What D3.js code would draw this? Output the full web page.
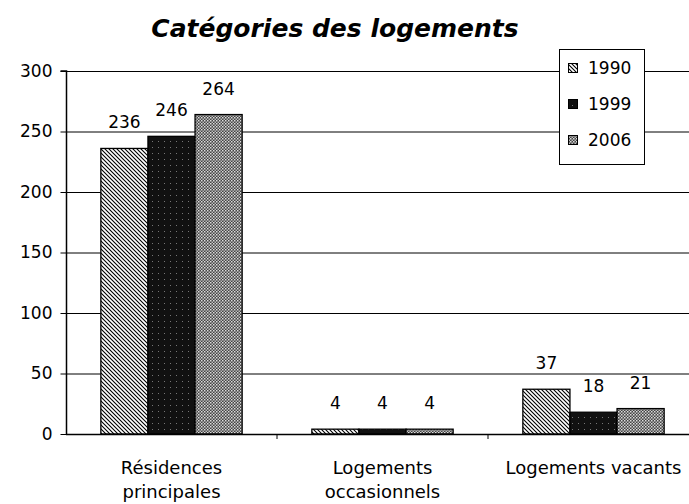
<!DOCTYPE html>
<html><head><meta charset="utf-8">
<script src="https://cdn.jsdelivr.net/npm/d3@7"></script>
<style>body{margin:0;background:#fff}svg{display:block}text{font-family:"DejaVu Sans",sans-serif}</style>
</head><body>
<script>
const title = "Catégories des logements";
const categories = [["Résidences","principales"],["Logements","occasionnels"],["Logements vacants"]];
const seriesNames = ["1990","1999","2006"];
const v1990 = [236, 4, 37];
const v1999 = [246, 4, 18];
const v2006 = [264, 4, 21];
const yTicks = [0,50,100,150,200,250,300];

const W=689,H=504;
const FONT="DejaVu Sans, sans-serif";
const svg=d3.select("body").append("svg").attr("width",W).attr("height",H);
const defs=svg.append("defs");
// patterns
const p1=defs.append("pattern").attr("id","pat0").attr("patternUnits","userSpaceOnUse").attr("width",4).attr("height",4);
p1.append("rect").attr("width",4).attr("height",4).attr("fill","#fff");
p1.append("path").attr("d","M-1,-1L5,5M-1,3L1,5M3,-1L5,1").attr("stroke","#000").attr("stroke-width",1.1);
const p2=defs.append("pattern").attr("id","pat1").attr("patternUnits","userSpaceOnUse").attr("width",6).attr("height",6);
p2.append("rect").attr("width",6).attr("height",6).attr("fill","#111");
p2.append("rect").attr("x",2).attr("y",3).attr("width",1).attr("height",1).attr("fill","#777");
const p3=defs.append("pattern").attr("id","pat2").attr("patternUnits","userSpaceOnUse").attr("width",3).attr("height",3);
p3.append("rect").attr("width",3).attr("height",3).attr("fill","#444");
p3.append("rect").attr("x",0).attr("y",0).attr("width",1.5).attr("height",1.5).attr("fill","#ddd");
p3.append("rect").attr("x",1.5).attr("y",1.5).attr("width",1.5).attr("height",1.5).attr("fill","#bbb");

const m={left:66,top:71,right:699,bottom:434};
const x=d3.scaleBand().domain(d3.range(categories.length)).range([m.left,m.right]).paddingInner(0).paddingOuter(0);
const y=d3.scaleLinear().domain([0,300]).range([m.bottom,m.top]);
const xs=d3.scaleBand().domain(seriesNames).range([0,x.bandwidth()]).paddingOuter(0.74).paddingInner(0);

// gridlines
svg.append("g").selectAll("line").data(yTicks.filter(d=>d>0)).join("line")
 .attr("x1",m.left).attr("x2",W).attr("y1",d=>y(d)+0.5).attr("y2",d=>y(d)+0.5)
 .attr("stroke","#000").attr("stroke-width",1);

// bars
const series=[v1990,v1999,v2006];
series.forEach((vals,si)=>{
  svg.append("g").selectAll("rect").data(vals).join("rect")
   .attr("x",(d,i)=>x(i)+xs(seriesNames[si]))
   .attr("y",d=>y(d))
   .attr("width",xs.bandwidth())
   .attr("height",d=>y(0)-y(d))
   .attr("fill",`url(#pat${si})`).attr("stroke","#000").attr("stroke-width",1.3);
  svg.append("g").selectAll("text").data(vals).join("text")
   .attr("x",(d,i)=>x(i)+xs(seriesNames[si])+xs.bandwidth()/2)
   .attr("y",d=>y(d)-20)
   .attr("text-anchor","middle").attr("font-size",17).text(d=>d);
});

// y axis
const yAxis=d3.axisLeft(y).tickValues(yTicks).tickSize(6).tickPadding(8);
const ga=svg.append("g").attr("transform",`translate(${m.left+0.5},0)`).call(yAxis);
ga.select(".domain").attr("stroke","#000").attr("stroke-width",1.5).attr("d",`M-6,${m.top}H0V${m.bottom}`);
ga.selectAll(".tick line").attr("stroke","#000");
ga.selectAll("text").attr("font-size",17).attr("fill","#000").style("font-family",FONT);

// x axis
const xAxis=d3.axisBottom(x).tickSize(0).tickFormat("");
const gx=svg.append("g").attr("transform",`translate(0,${m.bottom+0.5})`).call(xAxis);
gx.select(".domain").attr("stroke","#000").attr("stroke-width",1.5).attr("d",`M${m.left},0H${m.right}`);
// category separators
svg.append("g").selectAll("line").data(d3.range(1,categories.length)).join("line")
 .attr("x1",d=>x(d)).attr("x2",d=>x(d)).attr("y1",m.bottom).attr("y2",m.bottom+5).attr("stroke","#000");
// category labels
categories.forEach((lines,i)=>{
  const t=svg.append("text").attr("x",x(i)+x.bandwidth()/2).attr("y",474).attr("text-anchor","middle").attr("font-size",18);
  lines.forEach((l,j)=>t.append("tspan").attr("x",x(i)+x.bandwidth()/2).attr("dy",j?24:0).text(l));
});

// title
svg.append("text").attr("x",335).attr("y",37).attr("text-anchor","middle")
 .attr("font-size",25).attr("font-weight","bold").attr("font-style","italic").text(title);

// legend
const lg=svg.append("g");
lg.append("rect").attr("x",559.5).attr("y",49.5).attr("width",85).attr("height",115).attr("fill","#fff").attr("stroke","#000");
seriesNames.forEach((s,i)=>{
  const cy=68+i*36;
  lg.append("rect").attr("x",568.5).attr("y",cy-4.5).attr("width",9).attr("height",9).attr("fill",`url(#pat${i})`).attr("stroke","#000");
  lg.append("text").attr("x",588).attr("y",cy+6).attr("font-size",17).text(s);
});
</script>
</body></html>
